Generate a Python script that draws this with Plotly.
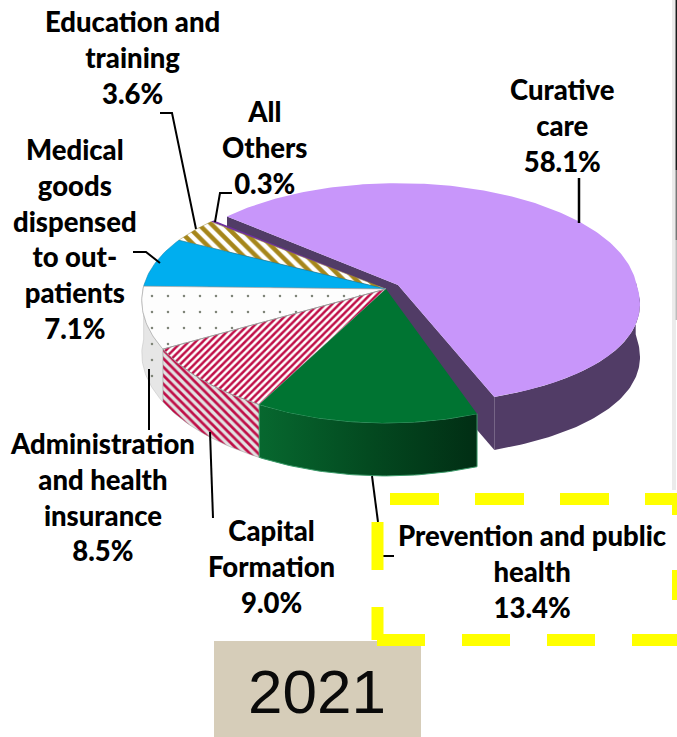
import math
import plotly.graph_objects as go

# ---- data ----
labels = ["Curative<br>care", "Prevention and public<br>health", "Capital<br>Formation",
          "Administration<br>and health<br>insurance", "Medical<br>goods<br>dispensed<br>to out-<br>patients",
          "Education and<br>training", "All<br>Others"]
values = [58.1, 13.4, 9.0, 8.5, 7.1, 3.6, 0.3]
year = "2021"

# ---- pie geometry (page pixels) ----
START = -49.0
DEPTH = 53.0
MAIN = dict(cx=386.0, cy=289.0, a=243.0, b=114.5, kx=0.10, kxb=0.10, ky=0.145)
EXPLODED = dict(cx=398.0, cy=285.0, a=238.5, b=110.0, kx=0.17, kxb=0.08, ky=0.08)

def rim(theta, g):
    t = math.radians(theta)
    u, v = math.sin(t), -math.cos(t)
    kx = g["kx"] if v > 0 else g["kxb"]
    return g["cx"] + g["a"] * u / (1 - kx * v), g["cy"] + g["b"] * v / (1 - g["ky"] * v)

def arc(t1, t2, g):
    n = max(2, int(abs(t2 - t1)) + 2)
    return [rim(t1 + (t2 - t1) * i / (n - 1), g) for i in range(n)]

def centre(g):
    return g["cx"], g["cy"]

bounds = [START]
for val in values:
    bounds.append(bounds[-1] + val * 360.0 / sum(values))

fig = go.Figure()

def poly(pts, fill=None, line=None, lw=0.0, pattern=None, gradient=None):
    xs = [p[0] for p in pts] + [pts[0][0]]
    ys = [p[1] for p in pts] + [pts[0][1]]
    fig.add_trace(go.Scatter(x=xs, y=ys, mode="lines", fill="toself",
                             fillcolor=fill, hoverinfo="skip",
                             line=dict(color=line or "rgba(0,0,0,0)", width=lw)))
    if pattern:
        fig.data[-1].update(fillpattern=pattern)
    if gradient:
        fig.data[-1].update(fillgradient=gradient)

def wedge(i, g, **kw):
    poly([centre(g)] + arc(bounds[i], bounds[i + 1], g), **kw)

def side(t1, t2, g, **kw):
    top = arc(t1, t2, g)
    poly(top + [(x, y + DEPTH) for x, y in reversed(top)], **kw)

# exploded slice: cut faces, rim, top
DP = "#513C66"
for th in (bounds[0], bounds[1]):
    p = rim(th, EXPLODED)
    c = centre(EXPLODED)
    poly([c, p, (p[0], p[1] + DEPTH), (c[0], c[1] + DEPTH)], fill=DP)
side(88, bounds[1], EXPLODED, fill=DP)
wedge(0, EXPLODED, fill="#C896FA")

# sides of the other slices
side(bounds[3], bounds[4], MAIN, fill="#E4E4E4", line="#BDBDBD", lw=0.5,
     pattern=dict(shape=".", fgcolor="#7F8578", fgopacity=1, bgcolor="#E6E6E6", size=16, solidity=0.02))
side(bounds[2], bounds[3], MAIN, line="#9A9A9A", lw=0.5,
     pattern=dict(shape="\\", fgcolor="#C00F48", fgopacity=1, bgcolor="#E2E2E2", size=6, solidity=0.45))
side(bounds[1], bounds[2], MAIN, line="#3C9B6A", lw=1,
     gradient=dict(type="horizontal",
                   colorscale=[[0, "#07682F"], [0.5, "#034A20"], [1, "#012E14"]]))

# tops
wedge(6, MAIN, fill="#7030A0")
wedge(5, MAIN, line="#9A8A3A", lw=0.5,
      pattern=dict(shape="\\", fgcolor="#A6861A", fgopacity=1, bgcolor="#FFFFFF", size=9, solidity=0.5))
wedge(4, MAIN, fill="#00AEEF", line="#0A7FA8", lw=0.5)
wedge(3, MAIN, line="#A8A8A8", lw=0.7,
      pattern=dict(shape=".", fgcolor="#7F8578", fgopacity=1, bgcolor="#FDFDFD", size=16, solidity=0.02))
wedge(2, MAIN, line="#9A9A9A", lw=1,
      pattern=dict(shape="/", fgcolor="#C00F48", fgopacity=1, bgcolor="#FFFFFF", size=5, solidity=0.5))
wedge(1, MAIN, fill="#007432")

# ---- decoration: leaders, dashed box, year plate, page edge ----
shapes = []
def path(pts, color="#000000", width=2):
    d = "M" + " L".join(f"{x},{y}" for x, y in pts)
    shapes.append(dict(type="path", path=d, line=dict(color=color, width=width), layer="above"))

path([(160, 113), (172, 113), (196, 229)])
path([(232, 193), (220, 193), (215, 222)])
path([(579, 178), (579, 223)], width=2.5)
path([(133, 252), (146, 252), (160, 263)])
path([(149, 369), (149, 430)], width=2)
path([(210, 432), (213, 518)], width=2)
path([(372, 476), (378, 522)])
path([(383, 556), (394, 556)])

path([(674, 0), (674, 490)], color="#EBEBEB", width=4)
path([(676.3, 0), (676.3, 170)], color="#1A1A1A", width=1.5)
path([(676.3, 170), (676.3, 240)], color="#777777", width=1.5)
path([(676.3, 240), (676.3, 320)], color="#BDBDBD", width=1.5)

Y = "#FFFF00"
def yline(x0, y0, x1, y1, dash=None):
    shapes.append(dict(type="line", x0=x0, y0=y0, x1=x1, y1=y1, layer="above",
                       line=dict(color=Y, width=12, dash=dash)))
yline(390, 499, 680, 499, "49px,36px")
yline(377, 640, 680, 640, "48px,37px")
yline(377.5, 522, 377.5, 640, "48px,37px")
yline(678, 493, 678, 515)
yline(678, 570, 678, 600)

shapes.append(dict(type="rect", x0=214, y0=641, x1=421, y1=737, layer="below",
                   fillcolor="#D6CDB9", line=dict(width=0)))

# ---- text ----
positions = [(562, 125), (532, 571), (271, 566), (102, 497), (75, 239), (132, 57), (265, 147)]
ann = []
for lab, val, (x, y) in zip(labels, values, positions):
    ann.append(dict(x=x, y=y, xref="x", yref="y", showarrow=False, align="center",
                    text=f"{lab}<br>{val:.1f}%",
                    font=dict(family="Lato", size=27.5, color="#000000", weight=900)))
ann.append(dict(x=317, y=691, xref="x", yref="y", showarrow=False, text=year,
                font=dict(family="Liberation Sans", size=62, color="#0A0A0A")))

fig.update_layout(
    width=677, height=737, autosize=False, showlegend=False,
    margin=dict(l=0, r=0, t=0, b=0),
    paper_bgcolor="#FFFFFF", plot_bgcolor="#FFFFFF",
    xaxis=dict(range=[0, 677], visible=False, fixedrange=True),
    yaxis=dict(range=[737, 0], visible=False, fixedrange=True),
    shapes=shapes, annotations=ann,
)
fig.write_html("out.html", config={"displayModeBar": False},
               post_script="document.body.style.margin='0';document.documentElement.style.overflow='hidden';")
